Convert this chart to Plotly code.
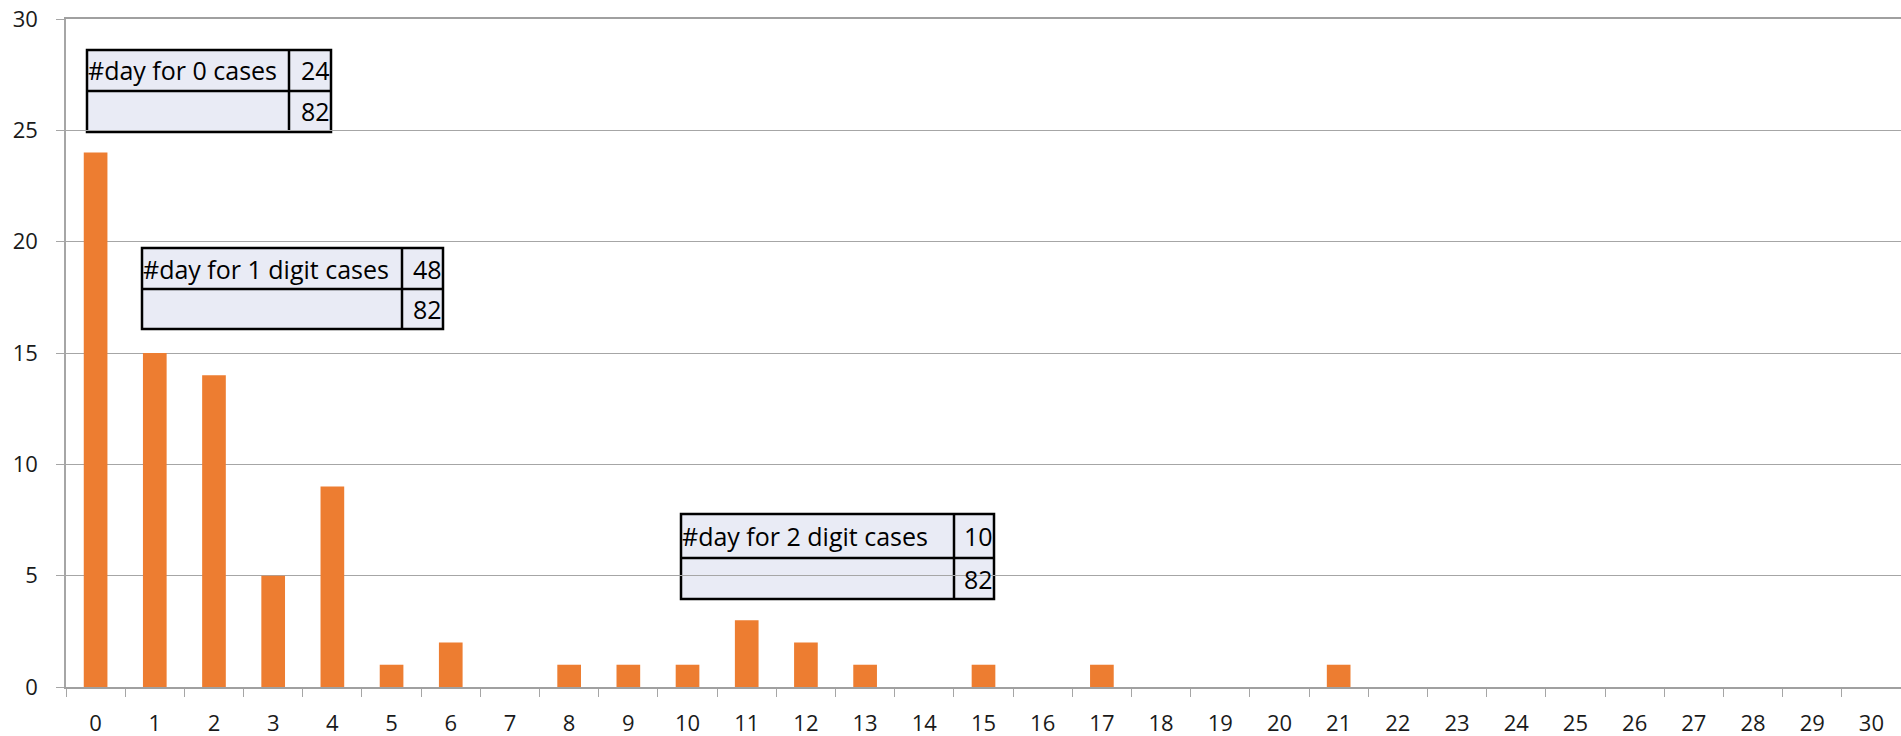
import plotly.graph_objects as go

# ---- data ----
categories = [str(i) for i in range(31)]
day_counts = [24, 15, 14, 5, 9, 1, 2, 0, 1, 1, 1, 3, 2, 1, 0, 1, 0, 1, 0, 0, 0, 1,
              0, 0, 0, 0, 0, 0, 0, 0, 0]
table_labels = ["#day for 0 cases", "#day for 1 digit cases", "#day for 2 digit cases"]
table_values = [24, 48, 10]
table_totals = [82, 82, 82]

# ---- geometry (page pixels) ----
W, H = 1901, 736
L, T, R, B = 66, 19, 1901, 687  # plot area in page pixels

def px(x):
    return (x - L) / (R - L)

def py(y):
    return (B - y) / (B - T)

# table boxes: x0, xmid, x1, y0, ymid, y1 (page pixels)
boxes = [
    (87, 289, 331, 50, 91, 132),
    (142, 402, 443, 248, 289, 329),
    (681, 954, 994, 514, 558, 599),
]

FONT = "Open Sans"
TFS = 25
fig = go.Figure()
fig.add_trace(go.Bar(x=categories, y=day_counts, marker=dict(color="#ED7D31", line=dict(width=0)),
                     showlegend=False, hoverinfo="x+y"))

shapes = []
annotations = []
for (x0, xm, x1, y0, ym, y1), lab, val, tot in zip(boxes, table_labels, table_values, table_totals):
    common = dict(xref="paper", yref="paper", layer="below")
    shapes.append(dict(type="rect", x0=px(x0), x1=px(x1), y0=py(y0), y1=py(y1),
                       fillcolor="#E9EBF5", line=dict(color="#000000", width=2.5), **common))
    shapes.append(dict(type="line", x0=px(xm), x1=px(xm), y0=py(y0), y1=py(y1),
                       line=dict(color="#000000", width=2.5), **common))
    shapes.append(dict(type="line", x0=px(x0), x1=px(x1), y0=py(ym), y1=py(ym),
                       line=dict(color="#000000", width=2.5), **common))
    annotations.append(dict(xref="paper", yref="paper", x=px(x0 - 1), y=py((y0 + ym) / 2),
                            xanchor="left", yanchor="middle", text=lab, showarrow=False,
                            font=dict(family=FONT, size=TFS, color="#000000")))
    annotations.append(dict(xref="paper", yref="paper", x=px(x1 + 1), y=py((y0 + ym) / 2),
                            xanchor="right", yanchor="middle", text=str(val), showarrow=False,
                            font=dict(family=FONT, size=TFS, color="#000000")))
    annotations.append(dict(xref="paper", yref="paper", x=px(x1 + 1), y=py((ym + y1) / 2),
                            xanchor="right", yanchor="middle", text=str(tot), showarrow=False,
                            font=dict(family=FONT, size=TFS, color="#000000")))

fig.update_layout(
    width=W, height=H,
    margin=dict(l=L, r=W - R, t=T, b=H - B, pad=0),
    paper_bgcolor="white",
    plot_bgcolor="rgba(0,0,0,0)",
    bargap=0.6,
    font=dict(family=FONT, size=22, color="#1a1a1a"),
    shapes=shapes,
    annotations=annotations,
    xaxis=dict(type="category", showgrid=False, showline=True, mirror=True,
               linecolor="#A0A0A0", linewidth=1.6,
               ticks="outside", tickson="boundaries", ticklen=8, tickcolor="#A6A6A6", tickwidth=1.2,
               ticklabelstandoff=16, ticklabeloverflow="allow", automargin=False,
               tickfont=dict(family=FONT, size=22, color="#1a1a1a"), fixedrange=True),
    yaxis=dict(range=[0, 30], dtick=5, showgrid=True, gridcolor="#A6A6A6", gridwidth=1.3,
               showline=True, linecolor="#A6A6A6", linewidth=1.5, zeroline=False,
               ticks="outside", ticklen=8, tickcolor="#A6A6A6", tickwidth=1.3,
               ticklabelstandoff=14, ticklabeloverflow="allow", automargin=False,
               tickfont=dict(family=FONT, size=22, color="#1a1a1a"), fixedrange=True),
)

fig.write_html("out.html", config={"displayModeBar": False},
               post_script="document.body.style.margin='0';document.body.style.overflow='hidden';")
